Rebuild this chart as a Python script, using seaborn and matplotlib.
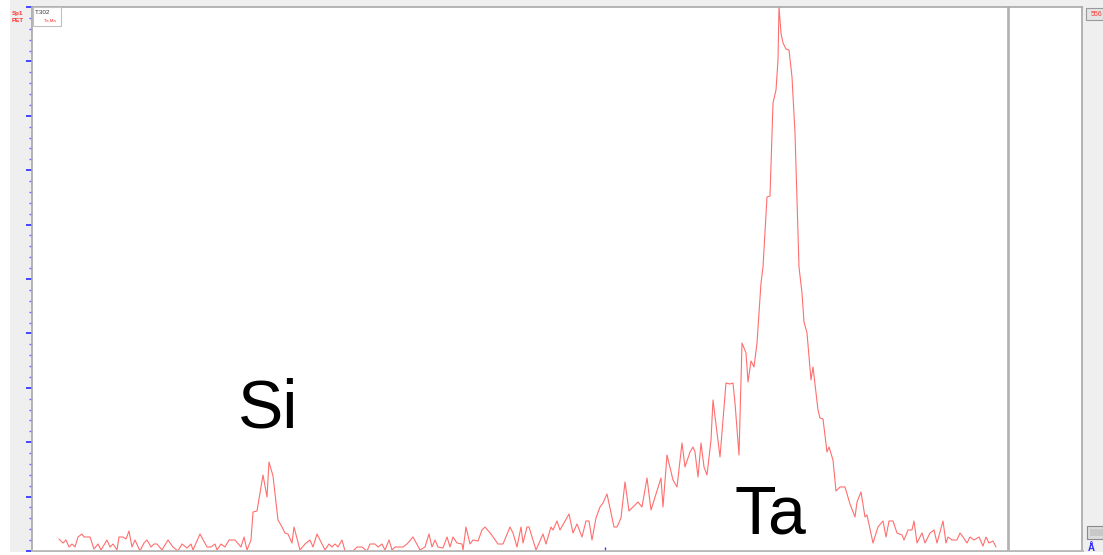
import numpy as np
import pandas as pd
import seaborn as sns
import matplotlib.pyplot as plt
from matplotlib.ticker import MultipleLocator, AutoMinorLocator
from matplotlib.patches import Rectangle

# WDS scan (PET crystal) - screen channel vs counts above baseline
position = [59, 63, 66, 69, 72, 75, 78, 82, 84, 90, 94, 98, 101, 107, 110, 113, 117, 119, 123, 126,
            129, 132, 135, 140, 144, 147, 151, 154, 157, 162, 168, 173, 178, 182, 187, 191, 193, 200,
            207, 211, 215, 217, 221, 225, 229, 235, 241, 244, 247, 251, 253, 257, 263, 267, 269, 273,
            278, 282, 285, 288, 292, 294, 300, 305, 310, 313, 317, 325, 329, 332, 335, 338, 342, 345,
            350, 353, 357, 362, 367, 370, 375, 378, 382, 385, 389, 392, 395, 403, 407, 413, 420, 425,
            429, 432, 435, 438, 443, 447, 450, 453, 457, 462, 463, 466, 470, 473, 478, 482, 485, 491,
            498, 503, 510, 513, 517, 521, 523, 527, 529, 536, 543, 546, 551, 553, 557, 560, 569, 573,
            577, 582, 586, 589, 592, 596, 600, 603, 607, 614, 617, 621, 625, 629, 638, 642, 647, 651,
            661, 663, 667, 673, 677, 682, 685, 690, 693, 695, 698, 701, 704, 707, 711, 713, 720, 726,
            730, 733, 735, 739, 742, 746, 748, 751, 754, 757, 761, 763, 767, 770, 772, 773, 776, 778,
            779, 781, 783, 786, 789, 792, 795, 797, 799, 802, 804, 807, 811, 813, 818, 820, 823, 827,
            829, 833, 836, 840, 845, 850, 855, 857, 861, 865, 867, 873, 878, 883, 886, 889, 893, 897,
            902, 904, 908, 912, 914, 917, 922, 925, 930, 934, 937, 943, 946, 948, 952, 957, 960, 963,
            967, 970, 974, 979, 983, 986, 989, 993, 996]
counts = [12, 8, 11, 4, 7, 4, 14, 17, 14, 14, 2, 7, 1, 11, 4, 7, 1, 14, 14, 12,
          20, 4, 11, 0, 8, 11, 4, 7, 7, 1, 11, 4, 0, 7, 3, 7, 1, 17,
          4, 4, 7, 1, 7, 4, 11, 11, 4, 14, 1, 11, 39, 40, 76, 54, 89, 75,
          31, 24, 18, 17, 8, 24, 1, 7, 11, 4, 17, 1, 7, 4, 7, 4, 11, 0,
          0, 0, 4, 4, 0, 7, 7, 4, 7, 1, 11, 1, 4, 4, 7, 14, 1, 4,
          17, 4, 11, 4, 3, 14, 4, 14, 8, 7, 1, 24, 7, 11, 10, 21, 24, 17,
          7, 7, 24, 18, 4, 24, 8, 24, 24, 1, 17, 7, 24, 21, 30, 21, 37, 18,
          27, 14, 30, 30, 11, 33, 44, 48, 57, 24, 24, 33, 69, 40, 49, 44, 73, 41,
          73, 44, 96, 71, 64, 108, 84, 99, 104, 99, 74, 108, 84, 76, 111, 151, 94, 168,
          167, 168, 148, 96, 208, 198, 169, 190, 184, 208, 268, 284, 354, 355, 418, 448, 461, 491,
          544, 518, 508, 502, 501, 474, 418, 351, 284, 258, 229, 218, 171, 184, 141, 133, 132, 99,
          104, 91, 60, 64, 64, 47, 34, 49, 59, 34, 36, 8, 24, 30, 14, 30, 30, 18,
          16, 11, 21, 21, 30, 8, 18, 8, 18, 21, 8, 30, 8, 14, 11, 11, 18, 14,
          8, 14, 11, 14, 5, 14, 8, 10, 4]

df = pd.DataFrame({"position": position, "counts": counts})

W, H = 1103, 555
sns.set_style("white")
plt.rcParams['font.family'] = ['Liberation Sans', 'DejaVu Sans']

fig = plt.figure(figsize=(W / 100, H / 100), dpi=100, facecolor='#efefef')


def box(x0, y0, x1, y1, fc, ec='none', lw=0.8):
    # rectangle in screen pixels, origin top-left
    fig.add_artist(Rectangle((x0 / W, 1 - y1 / H), (x1 - x0) / W, (y1 - y0) / H,
                             transform=fig.transFigure, facecolor=fc, edgecolor=ec, linewidth=lw))


box(0, 0, 10, H, 'white')
box(0, 552, W, H, 'white')

ax = fig.add_axes([32 / W, 1 - 551 / H, (1082 - 32) / W, 544 / H])
ax.set_facecolor('white')

sns.lineplot(data=df, x="position", y="counts", ax=ax, color='#ff6e6e',
             linewidth=0.8, sort=False, estimator=None)

ax.axvline(1008, color='#b4b4b4', lw=2)

ax.set_xlim(32, 1082)
ax.set_ylim(0, 544)
ax.set_xlabel("")
ax.set_ylabel("")

ax.yaxis.set_major_locator(MultipleLocator(54.4))
ax.yaxis.set_minor_locator(AutoMinorLocator(5))
ax.tick_params(axis='y', which='major', direction='out', length=4.5, width=1.3,
               color='#3a3aff', labelleft=False, left=True)
ax.tick_params(axis='y', which='minor', direction='out', length=2, width=1,
               color='#6a6aff', left=True)
ax.set_xticks([605])
ax.tick_params(axis='x', direction='in', length=3, width=1, color='#3a3aff',
               labelbottom=False, bottom=True)

for side in ['left', 'top', 'right']:
    ax.spines[side].set_color('#a8a8a8')
    ax.spines[side].set_linewidth(1.2)
ax.spines['bottom'].set_color('#b8b8b8')
ax.spines['bottom'].set_linewidth(2)

# peak labels
ax.text(238, 124, "Si", fontsize=49, color='black', ha='left', va='baseline')
ax.text(735, 17, "Ta", fontsize=49, color='black', ha='left', va='baseline')

# small software annotations
box(33, 7, 61, 26, 'white', '#c0c0c0', 0.8)
fig.text(35 / W, 1 - 13 / H, "T.302", fontsize=4.5, color='#333333', va='center')
fig.text(44 / W, 1 - 21 / H, "Ta Ma", fontsize=3.2, color='#ff3030', va='center')
fig.text(12 / W, 1 - 14 / H, "Sp1", fontsize=4.5, color='#ff3030', va='center', weight='bold')
fig.text(12 / W, 1 - 21 / H, "PET", fontsize=4.5, color='#ff3030', va='center', weight='bold')

box(1086, 8, 1103, 20, '#e4e4e4', '#9a9a9a', 0.8)
fig.text(1091 / W, 1 - 14 / H, "556", fontsize=5, color='#ff3030', va='center')
box(1087, 526, 1103, 539, '#dcdcdc', '#8a8a8a', 0.8)
box(1090, 529, 1103, 536, '#c8c8c8')
fig.text(1088 / W, 1 - 548 / H, "Å", fontsize=7, color='#2a2aff', va='center', weight='bold')

fig.savefig("out.png", dpi=100, facecolor=fig.get_facecolor())
